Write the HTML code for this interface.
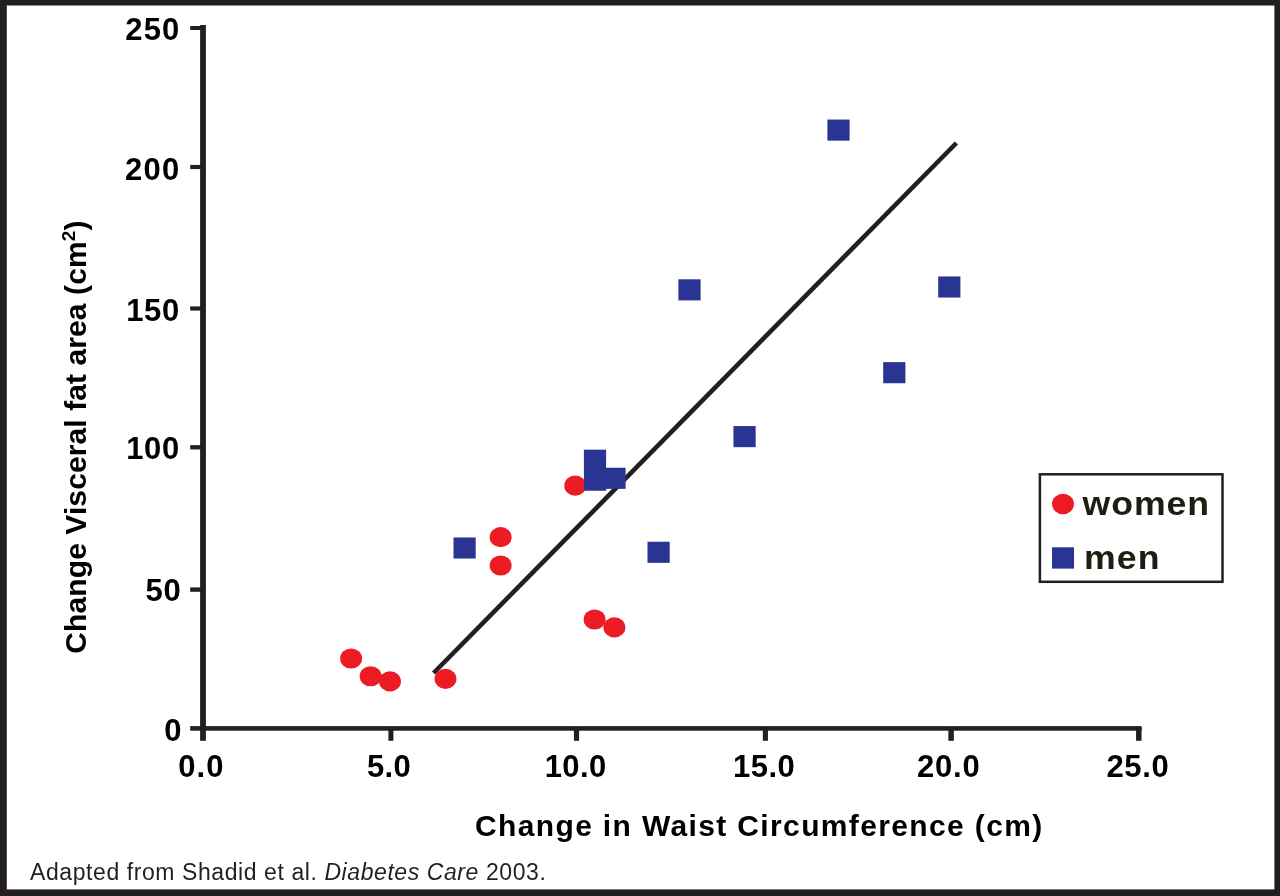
<!DOCTYPE html>
<html>
<head>
<meta charset="utf-8">
<style>
html,body{margin:0;padding:0;background:#231f20;}
body{width:1280px;height:896px;overflow:hidden;}
svg{display:block;will-change:transform;}
text{font-family:"Liberation Sans", sans-serif;}
</style>
</head>
<body>
<svg width="1280" height="896" viewBox="0 0 1280 896">
<rect x="0" y="0" width="1280" height="896" fill="#231f20"/>
<rect x="6.8" y="5.5" width="1267.6000000000001" height="883.9" fill="#ffffff"/>
<g fill="#231f20">
<rect x="200.1" y="25" width="5.8" height="705.7" fill="#231f20"/>
<rect x="200.1" y="726.1" width="941.5" height="4.6" fill="#231f20"/>
<rect x="190.2" y="26.0" width="10.9" height="4" fill="#231f20"/>
<rect x="190.2" y="164.95" width="10.9" height="4.1" fill="#231f20"/>
<rect x="190.2" y="306.4" width="10.9" height="4.2" fill="#231f20"/>
<rect x="190.2" y="445.15" width="10.9" height="4.3" fill="#231f20"/>
<rect x="190.2" y="587.4" width="10.9" height="4.4" fill="#231f20"/>
<rect x="190.2" y="726.1" width="10.9" height="4.6" fill="#231f20"/>
<rect x="200.1" y="727.1" width="5.8" height="13.7" fill="#231f20"/>
<rect x="388.4" y="727.1" width="5" height="13.7" fill="#231f20"/>
<rect x="573.9" y="727.1" width="5.2" height="13.7" fill="#231f20"/>
<rect x="762.85" y="727.1" width="5.1" height="13.7" fill="#231f20"/>
<rect x="948.35" y="727.1" width="5.5" height="13.7" fill="#231f20"/>
<rect x="1136.05" y="727.1" width="5.5" height="13.7" fill="#231f20"/>
</g>
<text x="125.2" y="39.8" font-size="31" font-weight="bold" fill="#000" letter-spacing="1.2">250</text>
<text x="125.1" y="179.5" font-size="31" font-weight="bold" fill="#000" letter-spacing="1.2">200</text>
<text x="126.2" y="321" font-size="31" font-weight="bold" fill="#000" letter-spacing="0.65">150</text>
<text x="126.2" y="459.2" font-size="31" font-weight="bold" fill="#000" letter-spacing="0.65">100</text>
<text x="145.4" y="601.2" font-size="31" font-weight="bold" fill="#000" letter-spacing="0.8">50</text>
<text x="164.3" y="740.6" font-size="31" font-weight="bold" fill="#000" letter-spacing="0">0</text>
<text x="178.3" y="776.8" font-size="31" font-weight="bold" fill="#000" letter-spacing="1.0">0.0</text>
<text x="367" y="776.8" font-size="31" font-weight="bold" fill="#000" letter-spacing="0.3">5.0</text>
<text x="544.7" y="776.8" font-size="31" font-weight="bold" fill="#000" letter-spacing="0.4">10.0</text>
<text x="733" y="776.8" font-size="31" font-weight="bold" fill="#000" letter-spacing="0.5">15.0</text>
<text x="917" y="776.8" font-size="31" font-weight="bold" fill="#000" letter-spacing="0.8">20.0</text>
<text x="1106.4" y="776.8" font-size="31" font-weight="bold" fill="#000" letter-spacing="0.7">25.0</text>
<text x="475" y="836" font-size="30" font-weight="bold" fill="#000" letter-spacing="1.36">Change in Waist Circumference (cm)</text>
<text x="30" y="880" font-size="23" font-weight="normal" fill="#231f20" letter-spacing="0.58">Adapted from Shadid et al. <tspan font-style="italic">Diabetes Care</tspan> 2003.</text>
<text transform="translate(86,653.7) rotate(-90)" font-size="30" font-weight="bold" fill="#000" letter-spacing="0.1">Change Visceral fat area (cm<tspan font-size="19" dy="-11">2</tspan><tspan dy="11">)</tspan></text>
<line x1="433.6" y1="673.0" x2="956.4" y2="143.0" stroke="#231f20" stroke-width="4.6"/>
<g fill="#ec1b24">
<ellipse cx="351.1" cy="658.5" rx="10.95" ry="10.1"/>
<ellipse cx="370.6" cy="676.25" rx="10.95" ry="10.1"/>
<ellipse cx="390" cy="681.4" rx="10.95" ry="10.1"/>
<ellipse cx="445.5" cy="678.8" rx="10.95" ry="10.1"/>
<ellipse cx="500.65" cy="537.2" rx="10.95" ry="10.1"/>
<ellipse cx="500.65" cy="565.5" rx="10.95" ry="10.1"/>
<ellipse cx="575.2" cy="485.7" rx="10.95" ry="10.1"/>
<ellipse cx="594.6" cy="619.5" rx="10.95" ry="10.1"/>
<ellipse cx="614.4" cy="627.4" rx="10.95" ry="10.1"/>
</g>
<g fill="#2a3493">
<rect x="453.5" y="537.45" width="22.2" height="21.1" fill="#2a3493"/>
<rect x="583.9" y="449.65" width="22.2" height="21.1" fill="#2a3493"/>
<rect x="583.9" y="469.65" width="22.2" height="21.1" fill="#2a3493"/>
<rect x="603.4" y="467.75" width="22.2" height="21.1" fill="#2a3493"/>
<rect x="647.5" y="541.75" width="22.2" height="21.1" fill="#2a3493"/>
<rect x="678.4" y="279.3" width="22.2" height="21.1" fill="#2a3493"/>
<rect x="733.45" y="426.05" width="22.2" height="21.1" fill="#2a3493"/>
<rect x="827.4" y="119.55" width="22.2" height="21.1" fill="#2a3493"/>
<rect x="883.2" y="362.15" width="22.2" height="21.1" fill="#2a3493"/>
<rect x="938.2" y="276.45" width="22.2" height="21.1" fill="#2a3493"/>
</g>
<rect x="1039.9" y="474.3" width="182.6" height="107.5" fill="#fff" stroke="#231f20" stroke-width="2.5"/>
<ellipse cx="1063" cy="504" rx="11" ry="10.3" fill="#ec1b24"/>
<rect x="1052" y="547.3" width="22" height="21.3" fill="#2a3493"/>
<text transform="translate(1082.5,514.8) scale(1.08,1)" font-size="33" font-weight="bold" fill="#1f1c12" letter-spacing="0.9">women</text>
<text transform="translate(1084,569) scale(1.08,1)" font-size="33" font-weight="bold" fill="#1f1c12" letter-spacing="1.0">men</text>
</svg>
</body>
</html>
